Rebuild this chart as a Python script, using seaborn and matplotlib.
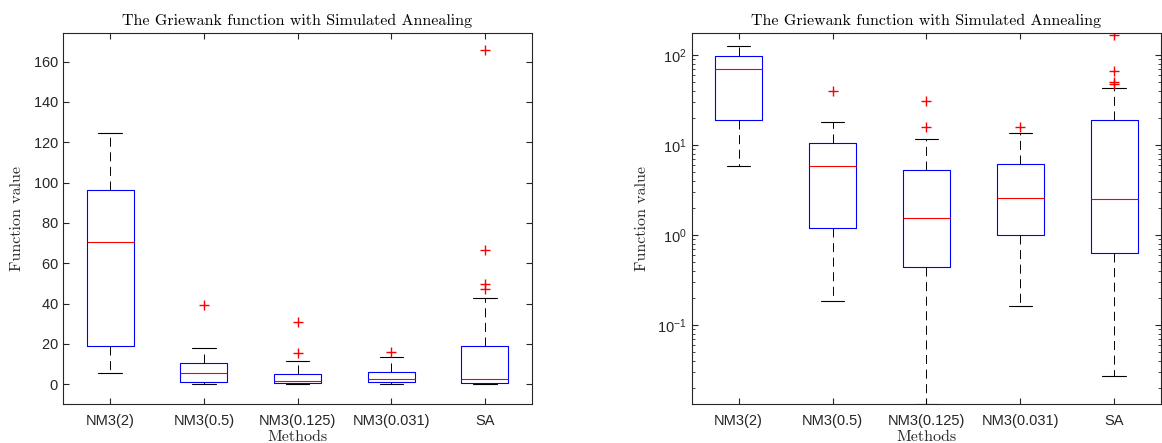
import matplotlib
matplotlib.use("Agg")
import matplotlib.pyplot as plt
import matplotlib.ticker as mticker
import seaborn as sns

# box statistics (MATLAB boxplot)
methods = ["NM3(2)", "NM3(0.5)", "NM3(0.125)", "NM3(0.031)", "SA"]
q1 = [19.2, 1.2, 0.445, 1.0, 0.636]
medians = [70.6, 5.8, 1.57, 2.56, 2.54]
q3 = [96.5, 10.5, 5.3, 6.15, 19.0]
whisker_low = [5.8, 0.185, 0.0134, 0.163, 0.0271]
whisker_high = [124.5, 17.9, 11.7, 13.7, 42.6]
outliers = [[], [39.5], [15.7, 30.8], [16.0], [47.2, 49.8, 66.4, 165.7]]

title = "The Griewank function with Simulated Annealing"
axis_grey = (0.15, 0.15, 0.15)

sns.set_style("ticks")
plt.rcParams["font.family"] = ["Liberation Sans", "DejaVu Sans"]
plt.rcParams["lines.scale_dashes"] = False
plt.rcParams["axes.formatter.use_mathtext"] = True


def box_stats():
    stats = []
    for i, name in enumerate(methods):
        stats.append({
            "label": name,
            "q1": q1[i], "med": medians[i], "q3": q3[i],
            "whislo": whisker_low[i], "whishi": whisker_high[i],
            "fliers": outliers[i],
        })
    return stats


def draw(ax, log=False):
    ax.bxp(box_stats(), widths=0.5, showfliers=True,
           boxprops=dict(color="blue", linewidth=0.8),
           medianprops=dict(color="red", linewidth=0.8),
           whiskerprops=dict(color="black", linewidth=0.7, linestyle=(0, (6.5, 4))),
           capprops=dict(color="black", linewidth=0.8),
           flierprops=dict(marker="+", markeredgecolor="red", markersize=7,
                           markeredgewidth=1.0, linestyle="none"))
    ax.set_xlim(0.5, 5.5)
    if log:
        ax.set_yscale("log")
        ax.set_ylim(0.0134, 174)
        ax.yaxis.set_minor_locator(mticker.LogLocator(base=10, subs=range(2, 10), numticks=20))
        ax.yaxis.set_minor_formatter(mticker.NullFormatter())
    else:
        ax.set_ylim(-9.8, 174)
        ax.set_yticks(range(0, 161, 20))
    ax.set_xticks(range(1, 6))
    ax.set_xticklabels(methods)
    ax.tick_params(which="both", direction="in", top=True, right=True,
                   color=axis_grey, labelcolor=axis_grey, labelsize=10.5)
    ax.tick_params(which="major", length=4, width=0.8)
    ax.tick_params(which="minor", length=2.2, width=0.6)
    ax.tick_params(axis="x", pad=7)
    for s in ax.spines.values():
        s.set_color(axis_grey)
        s.set_linewidth(0.8)
    ax.set_title(title, fontfamily="cmr10", fontsize=11.5, pad=6, color="black")
    ax.set_xlabel("Methods", fontfamily="cmr10", fontsize=11.5, labelpad=1.5, color=axis_grey)
    ax.set_ylabel("Function value", fontfamily="cmr10", fontsize=11.5, labelpad=6, color=axis_grey)


fig = plt.figure(figsize=(11.62, 4.43), dpi=100)
ax1 = fig.add_axes([0.0545, 0.088, 0.4031, 0.8368])
ax2 = fig.add_axes([0.5953, 0.088, 0.4039, 0.8368])
draw(ax1)
draw(ax2, log=True)

fig.savefig("out.png", dpi=100)
